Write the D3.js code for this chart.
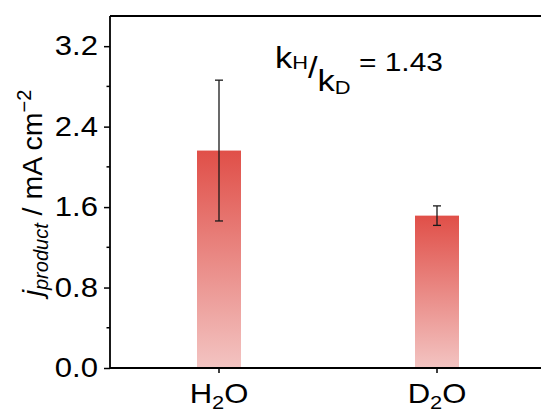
<!DOCTYPE html>
<html>
<head>
<meta charset="utf-8">
<script src="https://cdn.jsdelivr.net/npm/d3@7"></script>
<style>
  html, body { margin: 0; padding: 0; background: #fff; }
  svg { display: block; font-family: "Liberation Sans", Arial, sans-serif; }
</style>
</head>
<body>
<svg id="chart"></svg>
<script>
// data
const solvents = ["H2O", "D2O"];
const solventSubs = [["H", "2", "O"], ["D", "2", "O"]];
const currents = [2.162, 1.515];
const errors = [0.70, 0.097];
const yTicks = [0, 0.8, 1.6, 2.4, 3.2];
const yMinorTicks = [0.4, 1.2, 2.0, 2.8];
const ratioLabel = "1.43";

const width = 541, height = 412;
const margin = {top: 16, right: -5, bottom: 44, left: 110};
const stretch = 1.15; // glyphs in the reference are a bit wide

const svg = d3.select("#chart").attr("width", width).attr("height", height);

const x = d3.scaleBand()
  .domain(solvents)
  .range([margin.left, width - margin.right])
  .paddingInner(0.8)
  .paddingOuter(0.4);

const y = d3.scaleLinear()
  .domain([0, 3.5])
  .range([height - margin.bottom, margin.top]);

// bar gradient, red on top fading to pink
const defs = svg.append("defs");
const grad = defs.append("linearGradient")
  .attr("id", "barGrad")
  .attr("x1", 0).attr("y1", 0).attr("x2", 0).attr("y2", 1);
grad.append("stop").attr("offset", "0%").attr("stop-color", "#e04f48");
grad.append("stop").attr("offset", "100%").attr("stop-color", "#f3c4c2");

const bw = 44;
svg.append("g")
  .selectAll("rect")
  .data(solvents)
  .join("rect")
    .attr("x", (d) => x(d) + x.bandwidth() / 2 - bw / 2)
    .attr("width", bw)
    .attr("y", (d, i) => y(currents[i]))
    .attr("height", (d, i) => y(0) - y(currents[i]))
    .attr("fill", "url(#barGrad)");

// error bars
const eb = svg.append("g")
  .attr("stroke", "#1a1a1a")
  .attr("stroke-width", 1.3)
  .selectAll("g")
  .data(solvents)
  .join("g")
    .attr("transform", (d) => `translate(${x(d) + x.bandwidth() / 2},0)`);
eb.append("line")
  .attr("y1", (d, i) => y(currents[i] + errors[i]))
  .attr("y2", (d, i) => y(currents[i] - errors[i]));
eb.append("line")
  .attr("x1", -4).attr("x2", 4)
  .attr("y1", (d, i) => y(currents[i] + errors[i]))
  .attr("y2", (d, i) => y(currents[i] + errors[i]));
eb.append("line")
  .attr("x1", -4).attr("x2", 4)
  .attr("y1", (d, i) => y(currents[i] - errors[i]))
  .attr("y2", (d, i) => y(currents[i] - errors[i]));

// y axis
const yAxis = svg.append("g")
  .attr("transform", `translate(${margin.left},0)`)
  .call(d3.axisLeft(y).tickValues(yTicks).tickSize(6).tickPadding(6)
    .tickFormat(d3.format(".1f")).tickSizeOuter(0));
yAxis.append("g")
  .selectAll("line")
  .data(yMinorTicks)
  .join("line")
    .attr("x2", -3.5)
    .attr("y1", (d) => y(d)).attr("y2", (d) => y(d))
    .attr("stroke", "#000");
yAxis.select(".domain").attr("stroke-width", 1.8)
  .attr("d", `M0,${y(0)}V${margin.top}`);
yAxis.selectAll("line").attr("stroke-width", 1.5);
yAxis.selectAll(".tick text")
  .attr("x", 0)
  .attr("transform", `translate(-12,0) scale(${stretch},1)`)
  .attr("font-size", 27)
  .attr("font-family", "Liberation Sans, Arial, sans-serif")
  .attr("fill", "#000");

// x axis
const xAxis = svg.append("g")
  .attr("transform", `translate(0,${y(0)})`)
  .call(d3.axisBottom(x).tickSize(5).tickSizeOuter(0).tickFormat(""));
xAxis.select(".domain").attr("stroke-width", 1.8)
  .attr("d", `M${margin.left},0H${width + 10}`);
xAxis.selectAll(".tick line").attr("stroke-width", 1.5);
xAxis.selectAll(".tick")
  .append("text")
    .attr("transform", `translate(0,35) scale(${stretch},1)`)
    .attr("text-anchor", "middle")
    .attr("fill", "#000")
    .attr("font-size", 27)
    .each(function(d, i) {
      const t = d3.select(this);
      const parts = solventSubs[i];
      t.append("tspan").text(parts[0]);
      t.append("tspan").attr("font-size", 19).attr("dy", 6).text(parts[1]);
      t.append("tspan").attr("dy", -6).text(parts[2]);
    });

// top frame line
svg.append("line")
  .attr("x1", margin.left).attr("x2", width + 10)
  .attr("y1", margin.top).attr("y2", margin.top)
  .attr("stroke", "#000").attr("stroke-width", 1.8);

// y label
const yl = svg.append("text")
  .attr("transform", `translate(42,${(y(0) + margin.top) / 2 + 1}) rotate(-90)`)
  .attr("text-anchor", "middle")
  .attr("font-size", 28.5)
  .attr("fill", "#000");
yl.append("tspan").attr("font-style", "italic").text("j");
yl.append("tspan").attr("font-style", "italic").attr("font-size", 20).attr("dy", 6).text("product");
yl.append("tspan").attr("dy", -6).text(" / mA cm");
yl.append("tspan").attr("font-size", 20).attr("dy", -11).text("\u22122");

// kinetic isotope effect annotation
const kie = svg.append("text")
  .attr("transform", `translate(275,68) scale(${stretch},1)`)
  .attr("font-size", 30)
  .attr("fill", "#000");
kie.append("tspan").text("k");
kie.append("tspan").attr("font-size", 19).attr("dy", 1).text("H");
kie.append("tspan").attr("font-size", 30).attr("dy", 9).text("/");
kie.append("tspan").attr("dy", 13).text("k");
kie.append("tspan").attr("font-size", 19).attr("dy", 3).text("D");
kie.append("tspan").attr("font-size", 26).attr("dy", -23).text(" = " + ratioLabel);
</script>
</body>
</html>
